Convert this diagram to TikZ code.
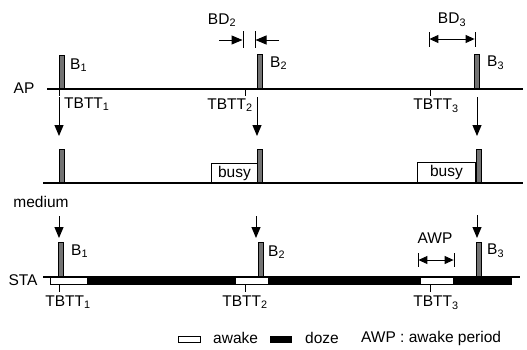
\documentclass[tikz,border=0pt]{standalone}
\usepackage{fontspec}
\setmainfont{Liberation Sans}
\usetikzlibrary{arrows.meta}
\begin{document}
\begin{tikzpicture}[x=1pt,y=-1pt,
  lbl/.style={font=\fontsize{15.5}{17}\selectfont, inner sep=0pt},
  beacon/.style={draw=black, fill=black!55, line width=0.8pt, minimum width=5pt, inner sep=0pt, anchor=south},
  baseline/.style={line width=1.1pt},
  tick/.style={line width=0.9pt},
  arr/.style={line width=1pt, -{Triangle[length=11pt,width=9pt]}},
  darr/.style={line width=1pt, {Triangle[length=9pt,width=8pt]}-{Triangle[length=9pt,width=8pt]}},
  busybox/.style={draw=black, line width=0.9pt, fill=white, inner sep=0pt, anchor=south west},
  awakebox/.style={draw=black, line width=0.8pt, fill=white},
  dozebar/.style={fill=black}
]
\useasboundingbox (0,0) rectangle (527,349);

% ---------- AP row ----------
\coordinate (apL) at (47,89);
\coordinate (apR) at (523,89);
\draw[baseline] (apL) -- (apR);
\node[lbl] (apLabel) at (24,88) {AP};
\node[beacon, minimum height=33pt] (apB1) at (61.5,89) {};
\node[beacon, minimum height=34pt] (apB2) at (259.5,89) {};
\node[beacon, minimum height=34pt] (apB3) at (477,89) {};
\node[lbl, anchor=west] (apB1l) at (70,65) {B\textsubscript{1}};
\node[lbl, anchor=west] (apB2l) at (270,63) {B\textsubscript{2}};
\node[lbl, anchor=west] (apB3l) at (487,63) {B\textsubscript{3}};
\draw[tick] (59,89) -- (59,96);
\draw[tick] (245,89) -- (245,96);
\draw[tick] (430,89) -- (430,96);
\node[lbl, anchor=west] (apT1) at (64,104) {TBTT\textsubscript{1}};
\node[lbl] (apT2) at (230,105) {TBTT\textsubscript{2}};
\node[lbl] (apT3) at (436,106) {TBTT\textsubscript{3}};

% BD2
\node[lbl] (bd2) at (222,20) {BD\textsubscript{2}};
\coordinate (bd2a) at (243,31); \coordinate (bd2b) at (243,48);
\coordinate (bd2c) at (255,31); \coordinate (bd2d) at (255,48);
\draw[tick] (bd2a) -- (bd2b);
\draw[tick] (bd2c) -- (bd2d);
\coordinate (bd2s1) at (219,40); \coordinate (bd2e1) at (242.5,40);
\coordinate (bd2s2) at (279,40); \coordinate (bd2e2) at (255.5,40);
\draw[arr] (bd2s1) -- (bd2e1);
\draw[arr] (bd2s2) -- (bd2e2);

% BD3
\node[lbl] (bd3) at (452,20) {BD\textsubscript{3}};
\coordinate (bd3a) at (429,32); \coordinate (bd3b) at (429,47);
\coordinate (bd3c) at (475,32); \coordinate (bd3d) at (475,47);
\draw[tick] (bd3a) -- (bd3b);
\draw[tick] (bd3c) -- (bd3d);
\coordinate (bd3l) at (429.4,39); \coordinate (bd3r) at (474.6,39);
\draw[darr] (bd3l) -- (bd3r);

% arrows AP -> medium
\coordinate (a1s) at (59,97);  \coordinate (a1e) at (59,136);
\coordinate (a2s) at (257,97); \coordinate (a2e) at (257,136);
\coordinate (a3s) at (477,97); \coordinate (a3e) at (477,136);
\draw[arr] (a1s) -- (a1e);
\draw[arr] (a2s) -- (a2e);
\draw[arr] (a3s) -- (a3e);

% ---------- medium row ----------
\coordinate (mL) at (43,183);
\coordinate (mR) at (523,183);
\draw[baseline] (mL) -- (mR);
\node[lbl] (mLabel) at (41,202) {medium};
\node[busybox, minimum width=46pt, minimum height=19pt] (busy1) at (211,183) {};
\node[lbl] at (busy1.center) {busy};
\node[busybox, minimum width=58pt, minimum height=20pt] (busy2) at (417,183) {};
\node[lbl] at (busy2.center) {busy};
\node[beacon, minimum height=33pt] (mB1) at (61.5,183) {};
\node[beacon, minimum height=33pt] (mB2) at (260,183) {};
\node[beacon, minimum height=33pt] (mB3) at (479,183) {};

% arrows medium -> STA
\coordinate (b1s) at (59,216);  \coordinate (b1e) at (59,238);
\coordinate (b2s) at (256,216); \coordinate (b2e) at (256,238);
\coordinate (b3s) at (477,215); \coordinate (b3e) at (477,238);
\draw[arr] (b1s) -- (b1e);
\draw[arr] (b2s) -- (b2e);
\draw[arr] (b3s) -- (b3e);

% ---------- STA row ----------
\coordinate (sL) at (43,277);
\coordinate (sR) at (520,277);
\draw[baseline] (sL) -- (sR);
\fill[dozebar] (50,277) rectangle (512,285);
\draw[awakebox] (50,277.5) rectangle (87,284.5);
\draw[awakebox] (235,277.5) rectangle (268,284.5);
\draw[awakebox] (420,277.5) rectangle (453,284.5);
\node[lbl] (sLabel) at (23,280) {STA};
\node[beacon, minimum height=34pt] (sB1) at (60.5,277) {};
\node[beacon, minimum height=34pt] (sB2) at (260.5,277) {};
\node[beacon, minimum height=34pt] (sB3) at (478.5,277) {};
\node[lbl, anchor=west] (sB1l) at (71,251) {B\textsubscript{1}};
\node[lbl, anchor=west] (sB2l) at (268,252) {B\textsubscript{2}};
\node[lbl, anchor=west] (sB3l) at (487,251) {B\textsubscript{3}};
\draw[tick] (59,285) -- (59,292);
\draw[tick] (245,285) -- (245,292);
\draw[tick] (430,285) -- (430,292);
\node[lbl] (sT1) at (68,302) {TBTT\textsubscript{1}};
\node[lbl] (sT2) at (245,302) {TBTT\textsubscript{2}};
\node[lbl] (sT3) at (436,303) {TBTT\textsubscript{3}};

% AWP
\node[lbl] (awp) at (435,238) {AWP};
\coordinate (awpa) at (418,253); \coordinate (awpb) at (418,267);
\coordinate (awpc) at (454,253); \coordinate (awpd) at (454,267);
\draw[tick] (awpa) -- (awpb);
\draw[tick] (awpc) -- (awpd);
\coordinate (awpl) at (418.4,260); \coordinate (awpr) at (453.6,260);
\draw[darr] (awpl) -- (awpr);

% ---------- legend ----------
\draw[awakebox] (178,336) rectangle (200,342);
\node[lbl, anchor=west] (lgAwake) at (213,338) {awake};
\fill[dozebar] (270,335.5) rectangle (292,342.5);
\node[lbl, anchor=west] (lgDoze) at (305,338) {doze};
\node[lbl, anchor=west] (lgAwp) at (361,338) {AWP : awake period};
\end{tikzpicture}
\end{document}
